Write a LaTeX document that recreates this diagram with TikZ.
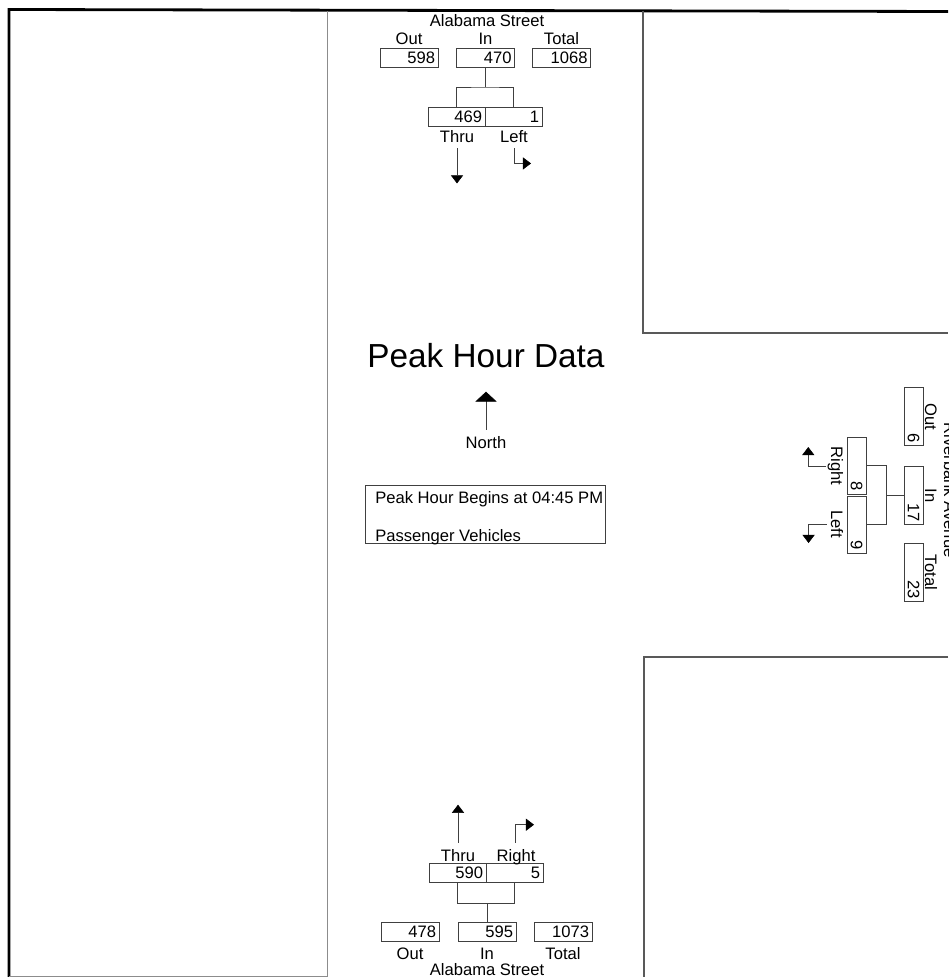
\documentclass[tikz,border=0pt]{standalone}
\usepackage{fontspec}
\setmainfont{Liberation Sans}
\usetikzlibrary{arrows.meta,positioning}

\newcommand\cntfont{\fontsize{11.8pt}{13pt}\selectfont}
\tikzset{
  cnt/.style={draw=black!75, inner xsep=2pt, inner ysep=0pt, text width=37pt,
    align=right, minimum height=13.5pt, font=\cntfont},
  half/.style={cnt, text width=36.4pt},
  lbl/.style={inner sep=0pt, anchor=base, font=\cntfont},
  mv/.style={draw=black!75, -{Triangle[width=8.7pt,length=5.8pt,color=black]}},
  tie/.style={draw=black!75},
}

\begin{document}
\begin{tikzpicture}[x=0.025cm, y=-0.025cm]
    \useasboundingbox (0,0) rectangle (948,977);
    \clip (0,0) rectangle (948,977);

    % sheet frame and blocks
    \draw[line width=2pt] (9,977) -- (9,9.5) -- (948,11.5);
    \draw[black!45, line width=0.7pt] (327,11) -- (327,977);
    \draw[black!45, line width=0.7pt] (9,976) -- (327,976);
    \draw[black!65, line width=0.8pt] (643,11) -- (643,333) -- (948,333);
    \draw[black!65, line width=0.8pt] (948,657) -- (644,657) -- (644,977);

    % northern approach
    \node[lbl] (nName) at (487,27) {Alabama Street};
    \node[cnt] (nOut) at (409,57.5) {598};
    \node[cnt] (nIn) at (485.5,57.5) {470};
    \node[cnt] (nTot) at (561.5,57.5) {1068};
    \node[lbl] (nOutL) at (409,45) {Out};
    \node[lbl] (nInL) at (485.5,45) {In};
    \node[lbl] (nTotL) at (561.5,45) {Total};
    \node[half] (nThru) at (456.5,116.5) {469};
    \node[half] (nLeft) at (513.5,116.5) {1};
    \node[lbl] (nThruL) at (457,143) {Thru};
    \node[lbl] (nLeftL) at (514,143) {Left};
    \coordinate (nJ) at (485.5,87);
    \draw[tie] (nIn.south) -- (nJ);
    \draw[tie] (nThru.north) |- (nJ) -| (nLeft.north);
    \draw[mv] (nThruL.south) ++(0,5) -- ++(0,35);
    \draw[mv] (nLeftL.south) ++(0,5) |- ++(17,15);

    % southern approach
    \node[lbl] (sName) at (487,975.5) {Alabama Street};
    \node[cnt] (sOut) at (410,931.5) {478};
    \node[cnt] (sIn) at (487,931.5) {595};
    \node[cnt] (sTot) at (563,931.5) {1073};
    \node[lbl] (sOutL) at (410,959) {Out};
    \node[lbl] (sInL) at (487,959) {In};
    \node[lbl] (sTotL) at (563,959) {Total};
    \node[half] (sThru) at (457.5,873) {590};
    \node[half] (sRight) at (514.5,873) {5};
    \node[lbl] (sThruL) at (458,861) {Thru};
    \node[lbl] (sRightL) at (516,861) {Right};
    \coordinate (sJ) at (487,903);
    \draw[tie] (sIn.north) -- (sJ);
    \draw[tie] (sThru.south) |- (sJ) -| (sRight.south);
    \draw[mv] (sThruL.north) ++(0,-6) -- ++(0,-38);
    \draw[mv] (sRightL.north) ++(-1,-6) |- ++(19,-18);

    % eastern approach
    \node[lbl, rotate=-90] (eName) at (944,490) {Riverbank Avenue};
    \node[cnt, rotate=-90] (eOut) at (913.5,416.5) {6};
    \node[cnt, rotate=-90] (eIn) at (913.5,495.5) {17};
    \node[cnt, rotate=-90] (eTot) at (913.5,572.5) {23};
    \node[lbl, rotate=-90] (eOutL) at (925,416.5) {Out};
    \node[lbl, rotate=-90] (eInL) at (925,495.5) {In};
    \node[lbl, rotate=-90] (eTotL) at (925,572.5) {Total};
    \node[half, rotate=-90] (eRight) at (856.5,465.5) {8};
    \node[half, rotate=-90] (eLeft) at (856.5,524.5) {9};
    \node[lbl, rotate=-90] (eRightL) at (831,466) {Right};
    \node[lbl, rotate=-90] (eLeftL) at (831,524) {Left};
    \coordinate (eJ) at (886,495.5);
    \draw[tie] (eIn.south) -- (eJ);
    \draw[tie] (eRight.north) -| (eJ) |- (eLeft.north);
    \draw[mv] (eRightL.south) ++(-1,0) -| ++(-18,-19);
    \draw[mv] (eLeftL.south) ++(-4,0) -| ++(-18,19);

    % title, north sign and notes
    \node[lbl, font=\fontsize{23.7pt}{26pt}\selectfont] (title) at (486,367) {Peak Hour Data};
    \node[lbl] (northL) at (486,448) {North};
    \draw[draw=black!75, -{Triangle[width=15pt,length=7pt,color=black]}] (northL.north) ++(0,-6) -- ++(0,-38);
    \node[draw=black!75, minimum width=6cm, minimum height=1.45cm, inner sep=0pt] (info) at (485,514) {};
    \node[lbl, anchor=base west] (beginL) at (375,503) {Peak Hour Begins at 04:45 PM};
    \node[lbl, anchor=base west] (classL) at (375,541) {Passenger Vehicles};
\end{tikzpicture}
\end{document}
